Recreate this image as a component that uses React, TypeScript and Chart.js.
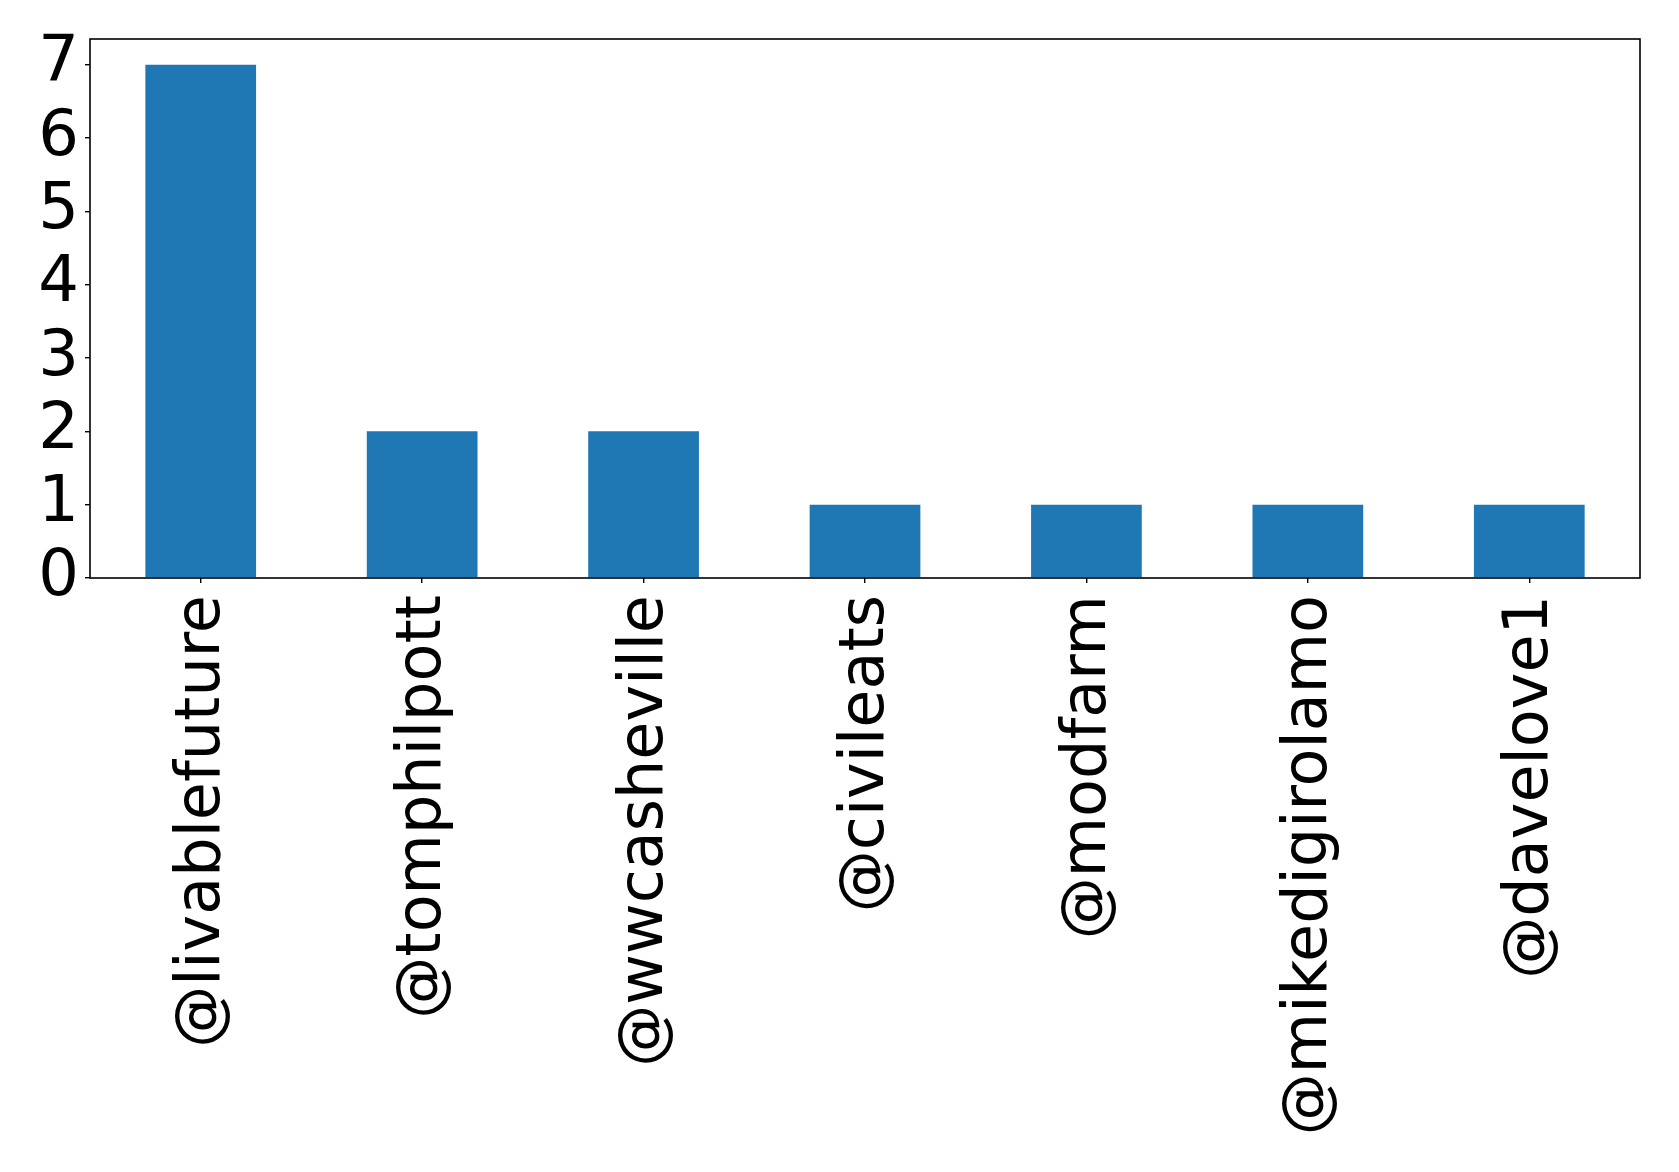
import React, { useEffect, useRef } from "react";
import { Chart, registerables } from "chart.js";

Chart.register(...registerables);

const categories = [
  "@livablefuture",
  "@tomphilpott",
  "@wwcasheville",
  "@civileats",
  "@modfarm",
  "@mikedigirolamo",
  "@davelove1",
];
const counts = [7, 2, 2, 1, 1, 1, 1];
const yTickValues = [0, 1, 2, 3, 4, 5, 6, 7];
const yMax = 7.35;

const framePlugin = {
  id: "frame",
  afterDatasetsDraw(chart: any) {
    const { ctx, chartArea } = chart;
    ctx.save();
    ctx.strokeStyle = "#000";
    ctx.lineWidth = 1.6;
    ctx.strokeRect(chartArea.left, chartArea.top, chartArea.right - chartArea.left, chartArea.bottom - chartArea.top);
    ctx.restore();
  },
};

export default function App() {
  const ref = useRef<HTMLCanvasElement | null>(null);
  useEffect(() => {
    document.body.style.margin = "0";
    const xFont = { family: "'DejaVu Sans', sans-serif", size: 62 };
    const yFont = { family: "'DejaVu Sans', sans-serif", size: 64 };
    const chart = new Chart(ref.current!, {
      type: "bar",
      data: {
        labels: categories,
        datasets: [
          {
            data: counts,
            backgroundColor: "#1f77b4",
            barPercentage: 0.5,
            categoryPercentage: 1,
          },
        ],
      },
      options: {
        animation: false,
        responsive: false,
        maintainAspectRatio: false,
        layout: { padding: { top: 39, right: 39, left: 0, bottom: 0 } },
        plugins: { legend: { display: false }, tooltip: { enabled: false } },
        scales: {
          x: {
            grid: { display: true, offset: false, drawOnChartArea: false, tickLength: 5, color: "#000", lineWidth: 1.4 },
            border: { display: false },
            ticks: { color: "#000", font: xFont, minRotation: 90, maxRotation: 90, padding: 12, autoSkip: false, labelOffset: 2 },
            afterFit(scale: any) {
              scale.height = 594;
              scale.paddingLeft = 0;
              scale.paddingRight = 0;
            },
          },
          y: {
            min: 0,
            max: yMax,
            grid: { display: true, drawOnChartArea: false, tickLength: 5, color: "#000", lineWidth: 1.4 },
            border: { display: false },
            ticks: { color: "#000", font: yFont, padding: 6, autoSkip: false },
            afterBuildTicks(scale: any) {
              scale.ticks = yTickValues.map((v) => ({ value: v }));
            },
            afterFit(scale: any) {
              scale.width = 90;
              scale.paddingTop = 0;
              scale.paddingBottom = 0;
            },
          },
        },
      },
      plugins: [framePlugin],
    });
    return () => chart.destroy();
  }, []);
  return (
    <div style={{ position: "absolute", left: 0, top: 0, width: 1679, height: 1172, background: "#fff" }}>
      <canvas ref={ref} width={1679} height={1172} style={{ width: 1679, height: 1172 }} />
    </div>
  );
}
